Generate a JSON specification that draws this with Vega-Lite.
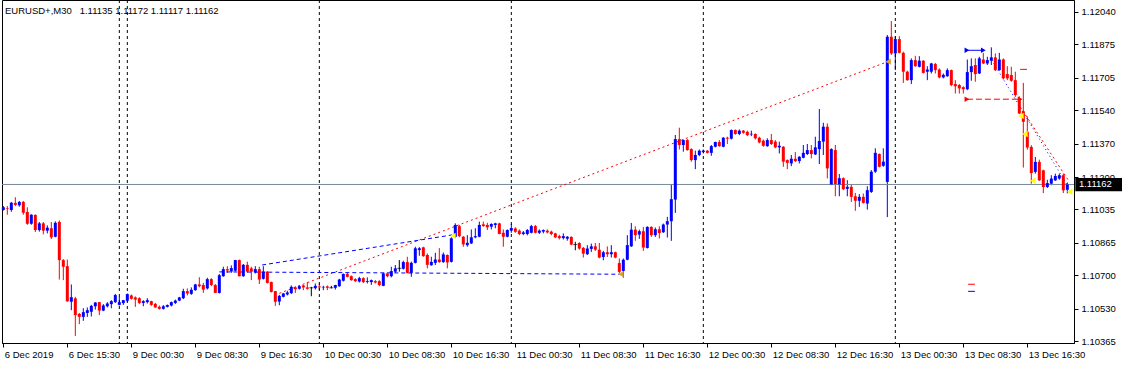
{
"$schema": "https://vega.github.io/schema/vega-lite/v6.json",
"width": 1072, "height": 343,
"autosize": {"type": "none"},
"padding": {"left": 2, "top": 0, "right": 48, "bottom": 22},
"background": "white",
"config": {"view": {"stroke": "black", "strokeWidth": 1}, "font": "Liberation Sans", "axis": {"labelOverlap": false, "labelBound": false, "labelFlush": false}, "scale": {"continuousPadding": 0}},
"title": {"text": "EURUSD+,M30\u00a0\u00a0 1.11135 1.11172 1.11117 1.11162", "anchor": "start", "frame": "group", "orient": "top", "offset": -16, "dx": 3, "fontSize": 9.5, "fontWeight": "normal", "font": "Liberation Sans", "color": "black"},
"datasets": {
"candles": [
{"i":0,"o":1.11032,"h":1.11052,"l":1.11029,"c":1.11046},
{"i":1,"o":1.11042,"h":1.11052,"l":1.11008,"c":1.11039},
{"i":2,"o":1.11032,"h":1.11073,"l":1.11023,"c":1.11069},
{"i":3,"o":1.11068,"h":1.11097,"l":1.11052,"c":1.11058},
{"i":4,"o":1.11056,"h":1.11078,"l":1.11049,"c":1.11073},
{"i":5,"o":1.11073,"h":1.11078,"l":1.11008,"c":1.11018},
{"i":6,"o":1.11022,"h":1.11046,"l":1.10957,"c":1.10962},
{"i":7,"o":1.10962,"h":1.11010,"l":1.10957,"c":1.11008},
{"i":8,"o":1.11007,"h":1.11010,"l":1.10920,"c":1.10930},
{"i":9,"o":1.10930,"h":1.10971,"l":1.10922,"c":1.10964},
{"i":10,"o":1.10964,"h":1.10971,"l":1.10908,"c":1.10927},
{"i":11,"o":1.10927,"h":1.10954,"l":1.10913,"c":1.10942},
{"i":12,"o":1.10939,"h":1.10971,"l":1.10884,"c":1.10893},
{"i":13,"o":1.10896,"h":1.10974,"l":1.10893,"c":1.10967},
{"i":14,"o":1.10971,"h":1.10979,"l":1.10678,"c":1.10777},
{"i":15,"o":1.10777,"h":1.10782,"l":1.10675,"c":1.10743},
{"i":16,"o":1.10746,"h":1.10780,"l":1.10565,"c":1.10567},
{"i":17,"o":1.10565,"h":1.10653,"l":1.10522,"c":1.10588},
{"i":18,"o":1.10582,"h":1.10590,"l":1.10391,"c":1.10497},
{"i":19,"o":1.10503,"h":1.10508,"l":1.10451,"c":1.10488},
{"i":20,"o":1.10488,"h":1.10532,"l":1.10468,"c":1.10512},
{"i":21,"o":1.10508,"h":1.10536,"l":1.10488,"c":1.10522},
{"i":22,"o":1.10514,"h":1.10549,"l":1.10490,"c":1.10544},
{"i":23,"o":1.10542,"h":1.10563,"l":1.10525,"c":1.10561},
{"i":24,"o":1.10563,"h":1.10564,"l":1.10497,"c":1.10520},
{"i":25,"o":1.10520,"h":1.10553,"l":1.10517,"c":1.10546},
{"i":26,"o":1.10542,"h":1.10563,"l":1.10536,"c":1.10556},
{"i":27,"o":1.10553,"h":1.10573,"l":1.10532,"c":1.10568},
{"i":28,"o":1.10563,"h":1.10605,"l":1.10559,"c":1.10599},
{"i":29,"o":1.10549,"h":1.10590,"l":1.10546,"c":1.10563},
{"i":30,"o":1.10558,"h":1.10574,"l":1.10549,"c":1.10573},
{"i":31,"o":1.10570,"h":1.10607,"l":1.10563,"c":1.10604},
{"i":32,"o":1.10597,"h":1.10602,"l":1.10576,"c":1.10580},
{"i":33,"o":1.10587,"h":1.10592,"l":1.10539,"c":1.10576},
{"i":34,"o":1.10583,"h":1.10588,"l":1.10553,"c":1.10559},
{"i":35,"o":1.10559,"h":1.10573,"l":1.10542,"c":1.10568},
{"i":36,"o":1.10563,"h":1.10583,"l":1.10556,"c":1.10573},
{"i":37,"o":1.10568,"h":1.10570,"l":1.10544,"c":1.10549},
{"i":38,"o":1.10554,"h":1.10559,"l":1.10534,"c":1.10536},
{"i":39,"o":1.10539,"h":1.10546,"l":1.10525,"c":1.10529},
{"i":40,"o":1.10529,"h":1.10548,"l":1.10525,"c":1.10542},
{"i":41,"o":1.10539,"h":1.10551,"l":1.10536,"c":1.10548},
{"i":42,"o":1.10546,"h":1.10566,"l":1.10541,"c":1.10563},
{"i":43,"o":1.10559,"h":1.10576,"l":1.10553,"c":1.10571},
{"i":44,"o":1.10571,"h":1.10590,"l":1.10568,"c":1.10587},
{"i":45,"o":1.10583,"h":1.10631,"l":1.10578,"c":1.10619},
{"i":46,"o":1.10619,"h":1.10633,"l":1.10597,"c":1.10607},
{"i":47,"o":1.10605,"h":1.10638,"l":1.10600,"c":1.10626},
{"i":48,"o":1.10624,"h":1.10656,"l":1.10621,"c":1.10653},
{"i":49,"o":1.10653,"h":1.10690,"l":1.10638,"c":1.10644},
{"i":50,"o":1.10650,"h":1.10661,"l":1.10610,"c":1.10627},
{"i":51,"o":1.10633,"h":1.10687,"l":1.10627,"c":1.10680},
{"i":52,"o":1.10680,"h":1.10685,"l":1.10644,"c":1.10650},
{"i":53,"o":1.10650,"h":1.10655,"l":1.10609,"c":1.10610},
{"i":54,"o":1.10610,"h":1.10706,"l":1.10607,"c":1.10700},
{"i":55,"o":1.10695,"h":1.10743,"l":1.10692,"c":1.10731},
{"i":56,"o":1.10731,"h":1.10746,"l":1.10712,"c":1.10724},
{"i":57,"o":1.10719,"h":1.10750,"l":1.10712,"c":1.10736},
{"i":58,"o":1.10723,"h":1.10778,"l":1.10719,"c":1.10777},
{"i":59,"o":1.10777,"h":1.10780,"l":1.10694,"c":1.10695},
{"i":60,"o":1.10695,"h":1.10757,"l":1.10692,"c":1.10753},
{"i":61,"o":1.10753,"h":1.10769,"l":1.10712,"c":1.10718},
{"i":62,"o":1.10735,"h":1.10743,"l":1.10675,"c":1.10718},
{"i":63,"o":1.10714,"h":1.10746,"l":1.10709,"c":1.10731},
{"i":64,"o":1.10731,"h":1.10743,"l":1.10655,"c":1.10678},
{"i":65,"o":1.10682,"h":1.10746,"l":1.10678,"c":1.10718},
{"i":66,"o":1.10718,"h":1.10721,"l":1.10658,"c":1.10661},
{"i":67,"o":1.10665,"h":1.10668,"l":1.10612,"c":1.10615},
{"i":68,"o":1.10619,"h":1.10620,"l":1.10544,"c":1.10565},
{"i":69,"o":1.10566,"h":1.10600,"l":1.10547,"c":1.10595},
{"i":70,"o":1.10590,"h":1.10610,"l":1.10587,"c":1.10607},
{"i":71,"o":1.10602,"h":1.10621,"l":1.10597,"c":1.10612},
{"i":72,"o":1.10609,"h":1.10648,"l":1.10604,"c":1.10641},
{"i":73,"o":1.10638,"h":1.10644,"l":1.10610,"c":1.10629},
{"i":74,"o":1.10631,"h":1.10650,"l":1.10627,"c":1.10644},
{"i":75,"o":1.10648,"h":1.10651,"l":1.10624,"c":1.10638},
{"i":76,"o":1.10638,"h":1.10666,"l":1.10627,"c":1.10631},
{"i":77,"o":1.10636,"h":1.10641,"l":1.10593,"c":1.10636},
{"i":78,"o":1.10634,"h":1.10658,"l":1.10627,"c":1.10646},
{"i":79,"o":1.10643,"h":1.10658,"l":1.10624,"c":1.10638},
{"i":80,"o":1.10638,"h":1.10646,"l":1.10624,"c":1.10641},
{"i":81,"o":1.10643,"h":1.10648,"l":1.10624,"c":1.10636},
{"i":82,"o":1.10636,"h":1.10646,"l":1.10633,"c":1.10636},
{"i":83,"o":1.10636,"h":1.10651,"l":1.10627,"c":1.10650},
{"i":84,"o":1.10644,"h":1.10682,"l":1.10641,"c":1.10678},
{"i":85,"o":1.10672,"h":1.10709,"l":1.10668,"c":1.10706},
{"i":86,"o":1.10706,"h":1.10712,"l":1.10689,"c":1.10692},
{"i":87,"o":1.10695,"h":1.10699,"l":1.10672,"c":1.10675},
{"i":88,"o":1.10680,"h":1.10685,"l":1.10665,"c":1.10670},
{"i":89,"o":1.10668,"h":1.10692,"l":1.10663,"c":1.10685},
{"i":90,"o":1.10685,"h":1.10690,"l":1.10660,"c":1.10665},
{"i":91,"o":1.10666,"h":1.10689,"l":1.10658,"c":1.10670},
{"i":92,"o":1.10665,"h":1.10678,"l":1.10651,"c":1.10675},
{"i":93,"o":1.10670,"h":1.10675,"l":1.10658,"c":1.10663},
{"i":94,"o":1.10670,"h":1.10675,"l":1.10644,"c":1.10650},
{"i":95,"o":1.10646,"h":1.10712,"l":1.10644,"c":1.10709},
{"i":96,"o":1.10709,"h":1.10714,"l":1.10689,"c":1.10695},
{"i":97,"o":1.10695,"h":1.10743,"l":1.10689,"c":1.10721},
{"i":98,"o":1.10718,"h":1.10752,"l":1.10712,"c":1.10735},
{"i":99,"o":1.10735,"h":1.10777,"l":1.10718,"c":1.10735},
{"i":100,"o":1.10733,"h":1.10774,"l":1.10729,"c":1.10767},
{"i":101,"o":1.10767,"h":1.10794,"l":1.10709,"c":1.10712},
{"i":102,"o":1.10712,"h":1.10769,"l":1.10692,"c":1.10763},
{"i":103,"o":1.10763,"h":1.10845,"l":1.10760,"c":1.10837},
{"i":104,"o":1.10828,"h":1.10843,"l":1.10799,"c":1.10837},
{"i":105,"o":1.10842,"h":1.10845,"l":1.10794,"c":1.10797},
{"i":106,"o":1.10803,"h":1.10811,"l":1.10735,"c":1.10753},
{"i":107,"o":1.10751,"h":1.10794,"l":1.10748,"c":1.10768},
{"i":108,"o":1.10763,"h":1.10814,"l":1.10752,"c":1.10780},
{"i":109,"o":1.10780,"h":1.10838,"l":1.10763,"c":1.10767},
{"i":110,"o":1.10767,"h":1.10816,"l":1.10763,"c":1.10806},
{"i":111,"o":1.10803,"h":1.10806,"l":1.10735,"c":1.10765},
{"i":112,"o":1.10768,"h":1.10893,"l":1.10765,"c":1.10888},
{"i":113,"o":1.10895,"h":1.10964,"l":1.10890,"c":1.10956},
{"i":114,"o":1.10950,"h":1.10956,"l":1.10893,"c":1.10899},
{"i":115,"o":1.10896,"h":1.10899,"l":1.10845,"c":1.10857},
{"i":116,"o":1.10853,"h":1.10904,"l":1.10845,"c":1.10865},
{"i":117,"o":1.10862,"h":1.10933,"l":1.10859,"c":1.10893},
{"i":118,"o":1.10893,"h":1.10939,"l":1.10888,"c":1.10899},
{"i":119,"o":1.10896,"h":1.10973,"l":1.10893,"c":1.10956},
{"i":120,"o":1.10959,"h":1.10973,"l":1.10947,"c":1.10950},
{"i":121,"o":1.10956,"h":1.10967,"l":1.10930,"c":1.10944},
{"i":122,"o":1.10947,"h":1.10964,"l":1.10933,"c":1.10961},
{"i":123,"o":1.10956,"h":1.10967,"l":1.10939,"c":1.10964},
{"i":124,"o":1.10964,"h":1.10967,"l":1.10908,"c":1.10910},
{"i":125,"o":1.10916,"h":1.10933,"l":1.10845,"c":1.10896},
{"i":126,"o":1.10896,"h":1.10933,"l":1.10893,"c":1.10930},
{"i":127,"o":1.10927,"h":1.10961,"l":1.10916,"c":1.10940},
{"i":128,"o":1.10938,"h":1.10944,"l":1.10916,"c":1.10921},
{"i":129,"o":1.10927,"h":1.10933,"l":1.10904,"c":1.10910},
{"i":130,"o":1.10910,"h":1.10925,"l":1.10904,"c":1.10918},
{"i":131,"o":1.10910,"h":1.10935,"l":1.10903,"c":1.10930},
{"i":132,"o":1.10916,"h":1.10956,"l":1.10913,"c":1.10950},
{"i":133,"o":1.10950,"h":1.10956,"l":1.10913,"c":1.10916},
{"i":134,"o":1.10916,"h":1.10933,"l":1.10910,"c":1.10927},
{"i":135,"o":1.10922,"h":1.10933,"l":1.10913,"c":1.10930},
{"i":136,"o":1.10927,"h":1.10933,"l":1.10913,"c":1.10918},
{"i":137,"o":1.10922,"h":1.10927,"l":1.10903,"c":1.10910},
{"i":138,"o":1.10913,"h":1.10916,"l":1.10889,"c":1.10893},
{"i":139,"o":1.10899,"h":1.10906,"l":1.10882,"c":1.10889},
{"i":140,"o":1.10889,"h":1.10913,"l":1.10882,"c":1.10899},
{"i":141,"o":1.10886,"h":1.10899,"l":1.10876,"c":1.10896},
{"i":142,"o":1.10895,"h":1.10898,"l":1.10853,"c":1.10856},
{"i":143,"o":1.10856,"h":1.10870,"l":1.10827,"c":1.10856},
{"i":144,"o":1.10864,"h":1.10868,"l":1.10830,"c":1.10836},
{"i":145,"o":1.10839,"h":1.10844,"l":1.10790,"c":1.10810},
{"i":146,"o":1.10807,"h":1.10853,"l":1.10803,"c":1.10836},
{"i":147,"o":1.10834,"h":1.10861,"l":1.10819,"c":1.10847},
{"i":148,"o":1.10847,"h":1.10864,"l":1.10824,"c":1.10830},
{"i":149,"o":1.10830,"h":1.10864,"l":1.10786,"c":1.10790},
{"i":150,"o":1.10793,"h":1.10824,"l":1.10776,"c":1.10817},
{"i":151,"o":1.10817,"h":1.10847,"l":1.10793,"c":1.10807},
{"i":152,"o":1.10807,"h":1.10853,"l":1.10790,"c":1.10817},
{"i":153,"o":1.10817,"h":1.10820,"l":1.10786,"c":1.10790},
{"i":154,"o":1.10762,"h":1.10785,"l":1.10711,"c":1.10717},
{"i":155,"o":1.10722,"h":1.10785,"l":1.10688,"c":1.10779},
{"i":156,"o":1.10779,"h":1.10904,"l":1.10776,"c":1.10853},
{"i":157,"o":1.10847,"h":1.10966,"l":1.10844,"c":1.10932},
{"i":158,"o":1.10932,"h":1.10949,"l":1.10875,"c":1.10904},
{"i":159,"o":1.10907,"h":1.10932,"l":1.10885,"c":1.10924},
{"i":160,"o":1.10924,"h":1.10946,"l":1.10824,"c":1.10841},
{"i":161,"o":1.10839,"h":1.10949,"l":1.10836,"c":1.10946},
{"i":162,"o":1.10946,"h":1.10949,"l":1.10895,"c":1.10904},
{"i":163,"o":1.10904,"h":1.10943,"l":1.10895,"c":1.10934},
{"i":164,"o":1.10934,"h":1.10949,"l":1.10887,"c":1.10915},
{"i":165,"o":1.10919,"h":1.10963,"l":1.10915,"c":1.10958},
{"i":166,"o":1.10958,"h":1.10997,"l":1.10892,"c":1.10975},
{"i":167,"o":1.10975,"h":1.11162,"l":1.10875,"c":1.11087},
{"i":168,"o":1.11085,"h":1.11414,"l":1.11017,"c":1.11393},
{"i":169,"o":1.11393,"h":1.11451,"l":1.11340,"c":1.11363},
{"i":170,"o":1.11363,"h":1.11391,"l":1.11329,"c":1.11388},
{"i":171,"o":1.11388,"h":1.11393,"l":1.11334,"c":1.11337},
{"i":172,"o":1.11342,"h":1.11346,"l":1.11278,"c":1.11286},
{"i":173,"o":1.11286,"h":1.11334,"l":1.11240,"c":1.11312},
{"i":174,"o":1.11312,"h":1.11340,"l":1.11306,"c":1.11334},
{"i":175,"o":1.11327,"h":1.11340,"l":1.11320,"c":1.11334},
{"i":176,"o":1.11334,"h":1.11337,"l":1.11320,"c":1.11323},
{"i":177,"o":1.11323,"h":1.11363,"l":1.11308,"c":1.11357},
{"i":178,"o":1.11354,"h":1.11380,"l":1.11351,"c":1.11378},
{"i":179,"o":1.11378,"h":1.11388,"l":1.11354,"c":1.11357},
{"i":180,"o":1.11354,"h":1.11403,"l":1.11351,"c":1.11400},
{"i":181,"o":1.11400,"h":1.11405,"l":1.11368,"c":1.11395},
{"i":182,"o":1.11395,"h":1.11442,"l":1.11391,"c":1.11439},
{"i":183,"o":1.11439,"h":1.11442,"l":1.11415,"c":1.11419},
{"i":184,"o":1.11419,"h":1.11442,"l":1.11413,"c":1.11436},
{"i":185,"o":1.11436,"h":1.11439,"l":1.11420,"c":1.11425},
{"i":186,"o":1.11430,"h":1.11436,"l":1.11408,"c":1.11413},
{"i":187,"o":1.11417,"h":1.11436,"l":1.11408,"c":1.11420},
{"i":188,"o":1.11419,"h":1.11422,"l":1.11391,"c":1.11397},
{"i":189,"o":1.11400,"h":1.11405,"l":1.11371,"c":1.11376},
{"i":190,"o":1.11385,"h":1.11391,"l":1.11354,"c":1.11359},
{"i":191,"o":1.11357,"h":1.11397,"l":1.11354,"c":1.11388},
{"i":192,"o":1.11388,"h":1.11419,"l":1.11363,"c":1.11368},
{"i":193,"o":1.11380,"h":1.11388,"l":1.11346,"c":1.11351},
{"i":194,"o":1.11351,"h":1.11380,"l":1.11320,"c":1.11359},
{"i":195,"o":1.11354,"h":1.11357,"l":1.11252,"c":1.11278},
{"i":196,"o":1.11286,"h":1.11289,"l":1.11240,"c":1.11272},
{"i":197,"o":1.11269,"h":1.11312,"l":1.11255,"c":1.11293},
{"i":198,"o":1.11293,"h":1.11327,"l":1.11276,"c":1.11281},
{"i":199,"o":1.11281,"h":1.11306,"l":1.11269,"c":1.11303},
{"i":200,"o":1.11298,"h":1.11363,"l":1.11295,"c":1.11323},
{"i":201,"o":1.11317,"h":1.11368,"l":1.11312,"c":1.11337},
{"i":202,"o":1.11337,"h":1.11363,"l":1.11295,"c":1.11317},
{"i":203,"o":1.11315,"h":1.11405,"l":1.11312,"c":1.11351},
{"i":204,"o":1.11342,"h":1.11546,"l":1.11266,"c":1.11383},
{"i":205,"o":1.11380,"h":1.11476,"l":1.11312,"c":1.11456},
{"i":206,"o":1.11456,"h":1.11473,"l":1.11193,"c":1.11244},
{"i":207,"o":1.11162,"h":1.11346,"l":1.11159,"c":1.11342},
{"i":208,"o":1.11337,"h":1.11363,"l":1.11102,"c":1.11164},
{"i":209,"o":1.11162,"h":1.11215,"l":1.11102,"c":1.11194},
{"i":210,"o":1.11194,"h":1.11198,"l":1.11133,"c":1.11138},
{"i":211,"o":1.11140,"h":1.11184,"l":1.11102,"c":1.11150},
{"i":212,"o":1.11150,"h":1.11164,"l":1.11073,"c":1.11099},
{"i":213,"o":1.11102,"h":1.11119,"l":1.11028,"c":1.11079},
{"i":214,"o":1.11079,"h":1.11113,"l":1.11048,"c":1.11099},
{"i":215,"o":1.11099,"h":1.11116,"l":1.11065,"c":1.11068},
{"i":216,"o":1.11065,"h":1.11153,"l":1.11034,"c":1.11133},
{"i":217,"o":1.11124,"h":1.11235,"l":1.11119,"c":1.11227},
{"i":218,"o":1.11227,"h":1.11346,"l":1.11221,"c":1.11323},
{"i":219,"o":1.11317,"h":1.11320,"l":1.11249,"c":1.11252},
{"i":220,"o":1.11257,"h":1.11346,"l":1.11252,"c":1.11278},
{"i":221,"o":1.11175,"h":1.11923,"l":1.10996,"c":1.11914},
{"i":222,"o":1.11914,"h":1.11994,"l":1.11821,"c":1.11829},
{"i":223,"o":1.11829,"h":1.11917,"l":1.11744,"c":1.11902},
{"i":224,"o":1.11902,"h":1.11917,"l":1.11829,"c":1.11832},
{"i":225,"o":1.11832,"h":1.11838,"l":1.11679,"c":1.11736},
{"i":226,"o":1.11736,"h":1.11741,"l":1.11690,"c":1.11693},
{"i":227,"o":1.11693,"h":1.11804,"l":1.11673,"c":1.11795},
{"i":228,"o":1.11795,"h":1.11817,"l":1.11761,"c":1.11764},
{"i":229,"o":1.11761,"h":1.11815,"l":1.11758,"c":1.11792},
{"i":230,"o":1.11792,"h":1.11795,"l":1.11727,"c":1.11730},
{"i":231,"o":1.11736,"h":1.11764,"l":1.11693,"c":1.11747},
{"i":232,"o":1.11736,"h":1.11781,"l":1.11727,"c":1.11778},
{"i":233,"o":1.11775,"h":1.11781,"l":1.11727,"c":1.11744},
{"i":234,"o":1.11747,"h":1.11753,"l":1.11702,"c":1.11707},
{"i":235,"o":1.11707,"h":1.11727,"l":1.11702,"c":1.11720},
{"i":236,"o":1.11713,"h":1.11753,"l":1.11710,"c":1.11744},
{"i":237,"o":1.11744,"h":1.11747,"l":1.11662,"c":1.11668},
{"i":238,"o":1.11673,"h":1.11693,"l":1.11625,"c":1.11662},
{"i":239,"o":1.11668,"h":1.11673,"l":1.11625,"c":1.11651},
{"i":240,"o":1.11657,"h":1.11662,"l":1.11625,"c":1.11647},
{"i":241,"o":1.11647,"h":1.11798,"l":1.11642,"c":1.11734},
{"i":242,"o":1.11734,"h":1.11804,"l":1.11690,"c":1.11764},
{"i":243,"o":1.11770,"h":1.11804,"l":1.11685,"c":1.11724},
{"i":244,"o":1.11727,"h":1.11812,"l":1.11724,"c":1.11804},
{"i":245,"o":1.11798,"h":1.11832,"l":1.11775,"c":1.11778},
{"i":246,"o":1.11778,"h":1.11812,"l":1.11770,"c":1.11795},
{"i":247,"o":1.11792,"h":1.11860,"l":1.11770,"c":1.11809},
{"i":248,"o":1.11809,"h":1.11829,"l":1.11739,"c":1.11744},
{"i":249,"o":1.11744,"h":1.11832,"l":1.11741,"c":1.11798},
{"i":250,"o":1.11798,"h":1.11804,"l":1.11696,"c":1.11702},
{"i":251,"o":1.11724,"h":1.11764,"l":1.11693,"c":1.11702},
{"i":252,"o":1.11719,"h":1.11761,"l":1.11685,"c":1.11690},
{"i":253,"o":1.11693,"h":1.11736,"l":1.11608,"c":1.11617},
{"i":254,"o":1.11594,"h":1.11611,"l":1.11520,"c":1.11523},
{"i":255,"o":1.11535,"h":1.11679,"l":1.11248,"c":1.11481},
{"i":256,"o":1.11430,"h":1.11509,"l":1.11339,"c":1.11350},
{"i":257,"o":1.11353,"h":1.11362,"l":1.11166,"c":1.11220},
{"i":258,"o":1.11226,"h":1.11302,"l":1.11217,"c":1.11277},
{"i":259,"o":1.11277,"h":1.11288,"l":1.11180,"c":1.11183},
{"i":260,"o":1.11234,"h":1.11237,"l":1.11118,"c":1.11149},
{"i":261,"o":1.11149,"h":1.11186,"l":1.11144,"c":1.11169},
{"i":262,"o":1.11166,"h":1.11209,"l":1.11158,"c":1.11192},
{"i":263,"o":1.11183,"h":1.11217,"l":1.11180,"c":1.11205},
{"i":264,"o":1.11192,"h":1.11217,"l":1.11186,"c":1.11209},
{"i":265,"o":1.11209,"h":1.11217,"l":1.11118,"c":1.11132},
{"i":266,"o":1.11135,"h":1.11172,"l":1.11117,"c":1.11162}
],
"redDotted": [
{"id":"a","i":69,"p":1.10608},{"id":"a","i":221.2,"p":1.11788},
{"id":"b","i":254.2,"p":1.11558},{"id":"b","i":266.2,"p":1.11185}
],
"blueDashed": [
{"id":"a","i":64.7,"p":1.10752},{"id":"a","i":112.2,"p":1.10905},
{"id":"b","i":54,"p":1.10717},{"id":"b","i":154.3,"p":1.10705}
],
"blueDotted": [
{"id":"c","i":247.1,"p":1.11796},{"id":"c","i":266.2,"p":1.11151}
],
"redDashed": [
{"id":"e","i":240.9,"p":1.11596},{"id":"e","i":254.2,"p":1.11596}
],
"redShort": [
{"id":"f","i":254.2,"p":1.11748},{"id":"f","i":255.9,"p":1.11748},
{"id":"g","i":241.2,"p":1.10654},{"id":"g","i":242.9,"p":1.10654}
],
"blueShort": [
{"id":"d","i":240.9,"p":1.11845},{"id":"d","i":245,"p":1.11845},
{"id":"h","i":241.2,"p":1.10618},{"id":"h","i":242.9,"p":1.10618}
],
"yellowArrows": [
{"i":112.4,"p":1.10900},{"i":254.4,"p":1.11511},{"i":255.4,"p":1.11419},{"i":257.4,"p":1.11181},{"i":266.6,"p":1.11125}
],
"orangeArrows": [
{"i":154.4,"p":1.10706},{"i":221.2,"p":1.11787}
],
"blueMarks": [{"i":240.9,"p":1.11845},{"i":245,"p":1.11845}],
"redMarks": [{"i":240.9,"p":1.11596},{"i":254.2,"p":1.11596}],
"separators": [{"i":29},{"i":31},{"i":79},{"i":127},{"i":175},{"i":223}],
"bid": [{"p":1.11162}]
},
"layer": [
{"data": {"name": "candles"}, "mark": {"type": "rule", "strokeWidth": 1},
 "encoding": {
  "x": {"field": "i", "type": "quantitative", "scale": {"domain": [-0.33, 267.67], "nice": false, "zero": false, "padding": 0},
        "axis": {"values": [0,16,32,48,64,80,96,112,128,144,160,176,192,208,224,240,256], "tickCount": 40, "labelExpr": "['6 Dec 2019','6 Dec 15:30','9 Dec 00:30','9 Dec 08:30','9 Dec 16:30','10 Dec 00:30','10 Dec 08:30','10 Dec 16:30','11 Dec 00:30','11 Dec 08:30','11 Dec 16:30','12 Dec 00:30','12 Dec 08:30','12 Dec 16:30','13 Dec 00:30','13 Dec 08:30','13 Dec 16:30'][round(datum.value/16)]", "title": null, "grid": false, "tickSize": 4, "tickColor": "black", "domainColor": "black", "labelAlign": "left", "labelBaseline": "top", "labelPadding": 2, "labelOffset": 1, "labelFont": "Liberation Sans", "labelFontSize": 9.5, "labelColor": "black", "labelOverlap": false, "labelBound": false, "labelFlush": false}},
  "y": {"field": "l", "type": "quantitative", "scale": {"domain": [1.10355, 1.12101], "nice": false, "zero": false},
        "axis": {"orient": "right", "values": [1.10365,1.10530,1.10700,1.10865,1.11035,1.11200,1.11370,1.11540,1.11705,1.11875,1.12040], "tickCount": 30, "format": ".5f", "title": null, "grid": false, "tickSize": 4, "tickColor": "black", "domainColor": "black", "labelPadding": 3, "labelFont": "Liberation Sans", "labelFontSize": 9.5, "labelColor": "black", "labelOverlap": false, "labelBound": false, "labelFlush": false}},
  "y2": {"field": "h"},
  "color": {"condition": [{"test": "datum.c > datum.o", "value": "#0000ff"}, {"test": "datum.c < datum.o", "value": "#ff0000"}], "value": "black"}
 }},
{"data": {"name": "separators"}, "mark": {"type": "rule", "color": "black", "strokeWidth": 1, "strokeDash": [3, 3]},
 "encoding": {"x": {"field": "i", "type": "quantitative", "scale": {"domain": [-0.33, 267.67], "nice": false, "zero": false, "padding": 0}}}},
{"data": {"name": "bid"}, "mark": {"type": "rule", "color": "#778899", "strokeWidth": 1},
 "encoding": {"y": {"field": "p", "type": "quantitative", "scale": {"domain": [1.10355, 1.12101], "nice": false, "zero": false}}}},
{"data": {"name": "redDotted"}, "mark": {"type": "line", "color": "#ff0000", "strokeWidth": 1, "strokeDash": [2, 3]},
 "encoding": {"x": {"field": "i", "type": "quantitative", "scale": {"domain": [-0.33, 267.67], "nice": false, "zero": false, "padding": 0}}, "y": {"field": "p", "type": "quantitative", "scale": {"domain": [1.10355, 1.12101], "nice": false, "zero": false}}, "detail": {"field": "id"}}},
{"data": {"name": "blueDashed"}, "mark": {"type": "line", "color": "#0000ff", "strokeWidth": 1, "strokeDash": [4, 3]},
 "encoding": {"x": {"field": "i", "type": "quantitative", "scale": {"domain": [-0.33, 267.67], "nice": false, "zero": false, "padding": 0}}, "y": {"field": "p", "type": "quantitative", "scale": {"domain": [1.10355, 1.12101], "nice": false, "zero": false}}, "detail": {"field": "id"}}},
{"data": {"name": "blueDotted"}, "mark": {"type": "line", "color": "#0000ff", "strokeWidth": 1, "strokeDash": [1, 3]},
 "encoding": {"x": {"field": "i", "type": "quantitative", "scale": {"domain": [-0.33, 267.67], "nice": false, "zero": false, "padding": 0}}, "y": {"field": "p", "type": "quantitative", "scale": {"domain": [1.10355, 1.12101], "nice": false, "zero": false}}, "detail": {"field": "id"}}},
{"data": {"name": "redDashed"}, "mark": {"type": "line", "color": "#ff0000", "strokeWidth": 1, "strokeDash": [6, 3]},
 "encoding": {"x": {"field": "i", "type": "quantitative", "scale": {"domain": [-0.33, 267.67], "nice": false, "zero": false, "padding": 0}}, "y": {"field": "p", "type": "quantitative", "scale": {"domain": [1.10355, 1.12101], "nice": false, "zero": false}}, "detail": {"field": "id"}}},
{"data": {"name": "redShort"}, "mark": {"type": "line", "color": "#ff0000", "strokeWidth": 1},
 "encoding": {"x": {"field": "i", "type": "quantitative", "scale": {"domain": [-0.33, 267.67], "nice": false, "zero": false, "padding": 0}}, "y": {"field": "p", "type": "quantitative", "scale": {"domain": [1.10355, 1.12101], "nice": false, "zero": false}}, "detail": {"field": "id"}}},
{"data": {"name": "blueShort"}, "mark": {"type": "line", "color": "#0000ff", "strokeWidth": 1},
 "encoding": {"x": {"field": "i", "type": "quantitative", "scale": {"domain": [-0.33, 267.67], "nice": false, "zero": false, "padding": 0}}, "y": {"field": "p", "type": "quantitative", "scale": {"domain": [1.10355, 1.12101], "nice": false, "zero": false}}, "detail": {"field": "id"}}},
{"data": {"name": "candles"}, "mark": {"type": "bar", "size": 3},
 "encoding": {
  "x": {"field": "i", "type": "quantitative", "scale": {"domain": [-0.33, 267.67], "nice": false, "zero": false, "padding": 0}},
  "y": {"field": "o", "type": "quantitative", "scale": {"domain": [1.10355, 1.12101], "nice": false, "zero": false}},
  "y2": {"field": "c"},
  "color": {"condition": [{"test": "datum.c > datum.o", "value": "#0000ff"}, {"test": "datum.c < datum.o", "value": "#ff0000"}], "value": "black"}
 }},
{"data": {"name": "candles"}, "transform": [{"filter": "datum.o == datum.c"}], "mark": {"type": "point", "shape": "stroke", "size": 16, "color": "black", "strokeWidth": 1, "filled": false},
 "encoding": {"x": {"field": "i", "type": "quantitative", "scale": {"domain": [-0.33, 267.67], "nice": false, "zero": false, "padding": 0}}, "y": {"field": "o", "type": "quantitative", "scale": {"domain": [1.10355, 1.12101], "nice": false, "zero": false}}}},
{"data": {"name": "yellowArrows"}, "mark": {"type": "point", "shape": "triangle-left", "size": 40, "filled": true, "color": "#ffff00", "opacity": 1},
 "encoding": {"x": {"field": "i", "type": "quantitative", "scale": {"domain": [-0.33, 267.67], "nice": false, "zero": false, "padding": 0}}, "y": {"field": "p", "type": "quantitative", "scale": {"domain": [1.10355, 1.12101], "nice": false, "zero": false}}}},
{"data": {"name": "orangeArrows"}, "mark": {"type": "point", "shape": "triangle-left", "size": 40, "filled": true, "color": "#e0a020", "opacity": 1},
 "encoding": {"x": {"field": "i", "type": "quantitative", "scale": {"domain": [-0.33, 267.67], "nice": false, "zero": false, "padding": 0}}, "y": {"field": "p", "type": "quantitative", "scale": {"domain": [1.10355, 1.12101], "nice": false, "zero": false}}}},
{"data": {"name": "blueMarks"}, "mark": {"type": "point", "shape": "triangle-right", "size": 30, "filled": true, "color": "#0000ff", "opacity": 1},
 "encoding": {"x": {"field": "i", "type": "quantitative", "scale": {"domain": [-0.33, 267.67], "nice": false, "zero": false, "padding": 0}}, "y": {"field": "p", "type": "quantitative", "scale": {"domain": [1.10355, 1.12101], "nice": false, "zero": false}}}},
{"data": {"name": "redMarks"}, "mark": {"type": "point", "shape": "triangle-right", "size": 30, "filled": true, "color": "#ff0000", "opacity": 1},
 "encoding": {"x": {"field": "i", "type": "quantitative", "scale": {"domain": [-0.33, 267.67], "nice": false, "zero": false, "padding": 0}}, "y": {"field": "p", "type": "quantitative", "scale": {"domain": [1.10355, 1.12101], "nice": false, "zero": false}}}},
{"data": {"name": "bid"}, "mark": {"type": "rect", "color": "black"},
 "encoding": {"x": {"datum": 268.0, "type": "quantitative", "scale": {"domain": [-0.33, 267.67], "nice": false, "zero": false, "padding": 0}}, "x2": {"datum": 279.7}, "y": {"datum": 1.11195, "type": "quantitative", "scale": {"domain": [1.10355, 1.12101], "nice": false, "zero": false}}, "y2": {"datum": 1.11127}}},
{"data": {"name": "bid"}, "mark": {"type": "text", "color": "white", "align": "left", "baseline": "middle", "font": "Liberation Sans", "fontSize": 9.5, "dx": 2},
 "encoding": {"x": {"datum": 268.4, "type": "quantitative", "scale": {"domain": [-0.33, 267.67], "nice": false, "zero": false, "padding": 0}}, "y": {"field": "p", "type": "quantitative", "scale": {"domain": [1.10355, 1.12101], "nice": false, "zero": false}}, "text": {"field": "p", "type": "quantitative", "format": ".5f"}}}
]
}
